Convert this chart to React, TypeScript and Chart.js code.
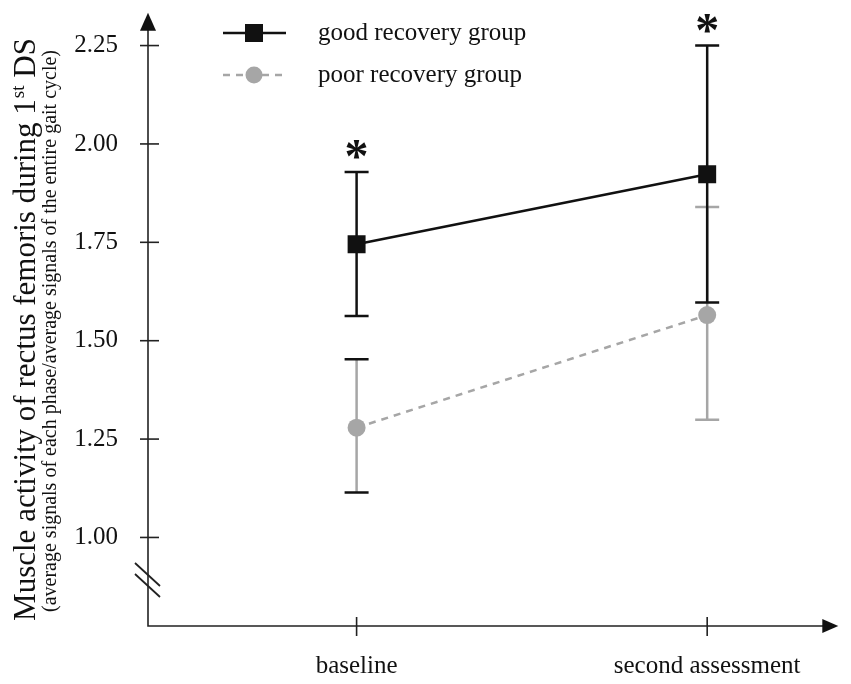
import React, { useEffect, useRef } from "react";
import { Chart, registerables } from "chart.js";

Chart.register(...registerables);

// values
const categories = ["baseline", "second assessment"];
const categoryX = [1, 2];
const goodMean = [1.745, 1.923];
const goodLower = [1.563, 1.597];
const goodUpper = [1.929, 2.25];
const poorMean = [1.279, 1.565];
const poorLower = [1.114, 1.299];
const poorUpper = [1.453, 1.84];
const significant = [true, true];
const yTicks = [1.0, 1.25, 1.5, 1.75, 2.0, 2.25];

const legendLabels = ["good recovery group", "poor recovery group"];
const yTitle = "Muscle activity of rectus femoris during 1";
const ySubTitle = "(average signals of each phase/average signals of the entire gait cycle)";

const BLACK = "#111";
const GRAY = "#a6a6a6";
const poorCapColors = [BLACK, GRAY];
const SERIF = "'Liberation Serif', 'DejaVu Serif', serif";

const figurePlugin = {
    id: "figureDecor",
    beforeDatasetsDraw(chart: any) {
        const { ctx, scales } = chart;
        const xs = scales.x;
        const ys = scales.y;
        const capHalf = 12;
        const drawBar = (i: number, lo: number[], hi: number[], lineColor: string, capColor: string) => {
            const px = xs.getPixelForValue(categoryX[i]);
            const top = ys.getPixelForValue(hi[i]);
            const bot = ys.getPixelForValue(lo[i]);
            ctx.save();
            ctx.lineWidth = 2.5;
            ctx.strokeStyle = lineColor;
            ctx.beginPath();
            ctx.moveTo(px, top);
            ctx.lineTo(px, bot);
            ctx.stroke();
            ctx.strokeStyle = capColor;
            ctx.beginPath();
            ctx.moveTo(px - capHalf, top);
            ctx.lineTo(px + capHalf, top);
            ctx.moveTo(px - capHalf, bot);
            ctx.lineTo(px + capHalf, bot);
            ctx.stroke();
            ctx.restore();
        };
        categoryX.forEach((_, i) => drawBar(i, poorLower, poorUpper, GRAY, poorCapColors[i]));
        categoryX.forEach((_, i) => drawBar(i, goodLower, goodUpper, BLACK, BLACK));
    },
    afterDraw(chart: any) {
        const { ctx, scales, chartArea } = chart;
        const xs = scales.x;
        const ys = scales.y;
        const left = chartArea.left;
        const bottom = chartArea.bottom;
        ctx.save();

        // axes
        ctx.strokeStyle = "#222";
        ctx.fillStyle = "#111";
        ctx.lineWidth = 1.6;
        ctx.beginPath();
        ctx.moveTo(left, chartArea.top + 14);
        ctx.lineTo(left, bottom);
        ctx.lineTo(chartArea.right - 14, bottom);
        ctx.stroke();
        // arrow heads
        ctx.beginPath();
        ctx.moveTo(left, chartArea.top);
        ctx.lineTo(left - 8, chartArea.top + 18);
        ctx.lineTo(left + 8, chartArea.top + 18);
        ctx.closePath();
        ctx.fill();
        ctx.beginPath();
        ctx.moveTo(chartArea.right, bottom);
        ctx.lineTo(chartArea.right - 16, bottom - 7);
        ctx.lineTo(chartArea.right - 16, bottom + 7);
        ctx.closePath();
        ctx.fill();

        // axis break
        ctx.lineWidth = 1.8;
        ctx.beginPath();
        ctx.moveTo(left - 13, 563);
        ctx.lineTo(left + 12, 586);
        ctx.moveTo(left - 13, 574);
        ctx.lineTo(left + 12, 597);
        ctx.stroke();

        // y ticks
        ctx.lineWidth = 1.6;
        ctx.font = `25px ${SERIF}`;
        ctx.textAlign = "right";
        ctx.textBaseline = "middle";
        yTicks.forEach((v) => {
            const py = ys.getPixelForValue(v);
            ctx.beginPath();
            ctx.moveTo(left - 8, py);
            ctx.lineTo(left + 11, py);
            ctx.stroke();
            ctx.fillText(v.toFixed(2), left - 30, py);
        });

        // x ticks
        ctx.textAlign = "center";
        categoryX.forEach((v, i) => {
            const px = xs.getPixelForValue(v);
            ctx.beginPath();
            ctx.moveTo(px, bottom - 9);
            ctx.lineTo(px, bottom + 10);
            ctx.stroke();
            ctx.fillText(categories[i], px, bottom + 40);
        });

        // significance marks
        ctx.font = `bold 48px ${SERIF}`;
        categoryX.forEach((v, i) => {
            if (!significant[i]) return;
            const px = xs.getPixelForValue(v);
            const py = ys.getPixelForValue(goodUpper[i]);
            ctx.fillText("*", px, py - 12);
        });

        // legend
        const lx0 = 223;
        const lx1 = 286;
        const lcx = 254;
        const ly = [33, 75];
        ctx.strokeStyle = BLACK;
        ctx.lineWidth = 2.5;
        ctx.beginPath();
        ctx.moveTo(lx0, ly[0]);
        ctx.lineTo(lx1, ly[0]);
        ctx.stroke();
        ctx.fillStyle = BLACK;
        ctx.fillRect(lcx - 9, ly[0] - 9, 18, 18);
        ctx.strokeStyle = GRAY;
        ctx.setLineDash([7, 6]);
        ctx.beginPath();
        ctx.moveTo(lx0, ly[1]);
        ctx.lineTo(lx1, ly[1]);
        ctx.stroke();
        ctx.setLineDash([]);
        ctx.fillStyle = GRAY;
        ctx.beginPath();
        ctx.arc(lcx, ly[1], 8.5, 0, Math.PI * 2);
        ctx.fill();
        ctx.fillStyle = "#111";
        ctx.font = `25px ${SERIF}`;
        ctx.textAlign = "left";
        legendLabels.forEach((t, i) => ctx.fillText(t, 318, ly[i]));

        // y titles
        ctx.textBaseline = "alphabetic";
        ctx.save();
        ctx.translate(35, 330);
        ctx.rotate(-Math.PI / 2);
        ctx.font = `31px ${SERIF}`;
        const mainW = ctx.measureText(yTitle).width;
        ctx.font = `19px ${SERIF}`;
        const supW = ctx.measureText("st").width;
        ctx.font = `31px ${SERIF}`;
        const dsW = ctx.measureText(" DS").width;
        const total = mainW + supW + dsW;
        let x = -total / 2;
        ctx.textAlign = "left";
        ctx.fillText(yTitle, x, 0);
        x += mainW;
        ctx.font = `19px ${SERIF}`;
        ctx.fillText("st", x + 1, -11);
        x += supW + 1;
        ctx.font = `31px ${SERIF}`;
        ctx.fillText(" DS", x, 0);
        ctx.restore();

        ctx.save();
        ctx.translate(56, 331);
        ctx.rotate(-Math.PI / 2);
        ctx.font = `20px ${SERIF}`;
        ctx.textAlign = "center";
        ctx.fillText(ySubTitle, 0, 0);
        ctx.restore();

        ctx.restore();
    },
};

const App = () => {
    const canvasRef = useRef<HTMLCanvasElement | null>(null);

    useEffect(() => {
        const ctx = canvasRef.current?.getContext("2d");
        if (!ctx) return;
        const chart = new Chart(ctx, {
            type: "line",
            data: {
                datasets: [
                    {
                        label: legendLabels[0],
                        data: categoryX.map((x, i) => ({ x, y: goodMean[i] })),
                        borderColor: BLACK,
                        backgroundColor: BLACK,
                        borderWidth: 2.5,
                        pointStyle: "rect",
                        pointRadius: 12.7,
                        pointBorderWidth: 0,
                    },
                    {
                        label: legendLabels[1],
                        data: categoryX.map((x, i) => ({ x, y: poorMean[i] })),
                        borderColor: GRAY,
                        backgroundColor: GRAY,
                        borderWidth: 2.5,
                        borderDash: [7, 6],
                        pointStyle: "circle",
                        pointRadius: 9,
                        pointBorderWidth: 0,
                    },
                ],
            },
            options: {
                animation: false,
                responsive: true,
                maintainAspectRatio: false,
                events: [],
                layout: { padding: { left: 148, top: 10, right: 3, bottom: 58 } },
                plugins: { legend: { display: false }, tooltip: { enabled: false } },
                scales: {
                    x: { type: "linear", display: false, min: 0.405, max: 2.374 },
                    y: { type: "linear", display: false, min: 0.775, max: 2.3335 },
                },
            },
            plugins: [figurePlugin],
        });
        return () => {
            chart.destroy();
        };
    }, []);

    return (
        <div style={{ position: "absolute", left: 0, top: 0, width: 851, height: 684, background: "#fff" }}>
            <canvas ref={canvasRef} />
        </div>
    );
};

export default App;
